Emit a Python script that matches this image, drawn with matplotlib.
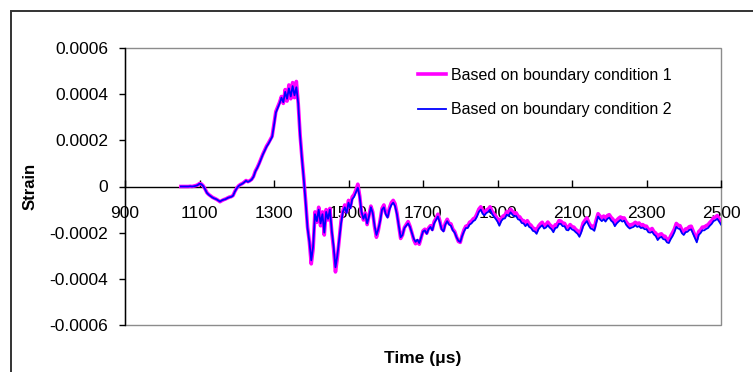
import numpy as np
import matplotlib
matplotlib.use("Agg")
import matplotlib.pyplot as plt
from matplotlib.patches import Rectangle
from matplotlib.lines import Line2D

plt.rcParams['font.family'] = ['Liberation Sans', 'DejaVu Sans']

# Sampling clock of the gauge record: 5 microsecond steps from 1050 to 2500
time_us = np.arange(1050, 2501, 5)

# Strain in microstrain, boundary condition 1 (one row = 50 microseconds)
strain_bc1_ue = [
    0, 0, 0, 0, 0, 1, 0, 2, 4, 7,
    13, 11, 3, -11, -27, -35, -41, -47, -51, -55,
    -60, -66, -61, -57, -54, -50, -46, -44, -39, -21,
    -7, 3, 9, 13, 19, 26, 21, 25, 31, 44,
    67, 82, 100, 120, 140, 158, 175, 188, 203, 218,
    270, 325, 345, 365, 390, 360, 420, 370, 440, 380,
    450, 385, 455, 360, 225, 125, 35, -65, -175, -240,
    -335, -270, -110, -155, -90, -170, -110, -210, -100, -145,
    -95, -195, -270, -370, -310, -230, -150, -105, -80, -110,
    -60, -90, -45, -35, -15, 10, -40, -115, -145, -115,
    -165, -125, -85, -110, -175, -220, -190, -145, -95, -80,
    -115, -130, -92, -70, -60, -75, -115, -170, -225, -210,
    -178, -165, -152, -172, -200, -230, -248, -235, -250, -222,
    -192, -185, -202, -180, -170, -186, -152, -138, -120, -148,
    -182, -190, -158, -142, -160, -162, -185, -195, -218, -238,
    -242, -212, -188, -172, -172, -155, -150, -140, -135, -118,
    -98, -88, -106, -112, -102, -98, -88, -106, -118, -128,
    -140, -158, -138, -128, -124, -108, -114, -98, -108, -116,
    -114, -128, -132, -146, -148, -160, -148, -162, -168, -180,
    -183, -193, -172, -162, -155, -170, -166, -154, -165, -172,
    -186, -166, -165, -148, -150, -158, -160, -175, -178, -165,
    -174, -176, -186, -192, -206, -186, -158, -146, -136, -156,
    -170, -172, -180, -145, -118, -128, -136, -128, -140, -126,
    -122, -134, -142, -160, -146, -138, -132, -138, -136, -152,
    -162, -170, -165, -162, -155, -162, -158, -168, -165, -172,
    -172, -186, -188, -182, -196, -202, -220, -208, -205, -215,
    -216, -230, -232, -214, -200, -184, -160, -168, -170, -188,
    -196, -184, -182, -174, -172, -192, -212, -228, -196, -188,
    -176, -176, -170, -166, -156, -148, -136, -132, -126, -140,
    -150,
]

# Strain in microstrain, boundary condition 2 (one row = 50 microseconds)
strain_bc2_ue = [
    0, 0, 0, 0, 0, 1, 0, 1, 3, 6,
    12, 10, 2, -12, -28, -36, -42, -48, -52, -55,
    -60, -65, -60, -57, -55, -50, -47, -45, -40, -22,
    -8, 2, 8, 12, 18, 25, 20, 24, 30, 42,
    65, 80, 98, 118, 138, 155, 172, 185, 200, 215,
    265, 320, 340, 360, 385, 365, 410, 380, 425, 390,
    435, 395, 430, 360, 220, 120, 30, -70, -180, -240,
    -320, -260, -120, -150, -100, -160, -120, -200, -110, -140,
    -100, -190, -260, -350, -300, -230, -160, -110, -90, -115,
    -70, -95, -55, -45, -25, -5, -45, -110, -140, -120,
    -160, -130, -90, -115, -170, -210, -185, -150, -100, -90,
    -120, -135, -100, -80, -70, -85, -120, -170, -220, -210,
    -180, -170, -160, -175, -200, -225, -240, -230, -245, -220,
    -195, -190, -205, -185, -175, -190, -160, -145, -130, -155,
    -185, -195, -165, -150, -165, -170, -190, -200, -220, -235,
    -240, -215, -195, -180, -180, -165, -160, -150, -145, -130,
    -110, -100, -118, -125, -115, -110, -100, -118, -130, -140,
    -152, -170, -150, -140, -138, -122, -128, -112, -122, -130,
    -128, -142, -145, -158, -160, -172, -162, -175, -180, -192,
    -195, -205, -185, -175, -168, -182, -178, -168, -178, -185,
    -198, -180, -178, -162, -162, -172, -172, -188, -190, -178,
    -186, -190, -198, -205, -218, -198, -172, -160, -150, -168,
    -182, -185, -192, -158, -130, -142, -150, -142, -152, -140,
    -135, -148, -155, -172, -160, -152, -145, -152, -148, -165,
    -175, -182, -178, -175, -168, -175, -172, -180, -178, -185,
    -185, -198, -200, -196, -208, -215, -232, -222, -218, -228,
    -230, -242, -245, -228, -215, -198, -175, -182, -185, -202,
    -210, -198, -196, -188, -186, -205, -225, -242, -210, -202,
    -190, -190, -184, -180, -170, -162, -150, -146, -140, -152,
    -165,
]

series_labels = ["Based on boundary condition 1", "Based on boundary condition 2"]
y_ticks = [-0.0006, -0.0004, -0.0002, 0, 0.0002, 0.0004, 0.0006]
y_tick_labels = ["-0.0006", "-0.0004", "-0.0002", "0", "0.0002", "0.0004", "0.0006"]
x_ticks = [900, 1100, 1300, 1500, 1700, 1900, 2100, 2300, 2500]

t = np.asarray(time_us, dtype=float)
s1 = np.array(strain_bc1_ue, dtype=float) * 1e-6
s2 = np.array(strain_bc2_ue, dtype=float) * 1e-6
assert len(t) == len(s1) == len(s2)

fig = plt.figure(figsize=(7.53, 3.72), dpi=100)
fig.patch.set_facecolor("white")

# Outer chart frame
fig.patches.append(Rectangle((11 / 753, -0.2), 1.2, (372 - 11) / 372 + 0.2,
                             transform=fig.transFigure, fill=False,
                             edgecolor="#333333", linewidth=1.4, zorder=0))

ax = fig.add_axes([125 / 753, 47 / 372, 596 / 753, 277 / 372])
ax.set_xlim(900, 2500)
ax.set_ylim(-0.0006, 0.0006)

# Plot-area border in grey
ax.add_patch(Rectangle((0, 0), 1, 1, transform=ax.transAxes, fill=False,
                       edgecolor="#8c8c8c", linewidth=1.0, zorder=1,
                       clip_on=False))
for side in ("top", "right"):
    ax.spines[side].set_visible(False)
ax.spines["left"].set_color("black")
ax.spines["left"].set_linewidth(1.0)
ax.spines["left"].set_zorder(3)
ax.spines["bottom"].set_position(("data", 0))
ax.spines["bottom"].set_color("black")
ax.spines["bottom"].set_linewidth(1.0)
ax.spines["bottom"].set_zorder(3)

ax.plot(t, s1, color="#ff00ff", linewidth=2.6, zorder=4, label=series_labels[0])
ax.plot(t, s2, color="#0000ff", linewidth=1.3, zorder=5, label=series_labels[1])

ax.set_yticks(y_ticks)
ax.set_yticklabels(y_tick_labels)
ax.set_xticks(x_ticks)
ax.set_xticklabels([str(v) for v in x_ticks])
ax.tick_params(axis="y", direction="out", length=4, width=1, labelsize=12.5,
               pad=8, colors="black")
ax.tick_params(axis="x", direction="in", length=5, width=1, labelsize=12.5,
               pad=14, colors="black")

ax.set_xlabel("Time (μs)", fontsize=12.5, fontweight="bold")
ax.xaxis.set_label_coords(0.5, -0.093)
ax.set_ylabel("Strain", fontsize=12, fontweight="bold")
ax.yaxis.set_label_coords(-0.146, 0.5)

handles = [Line2D([], [], color="#ff00ff", linewidth=2.6),
           Line2D([], [], color="#0000ff", linewidth=1.3)]
ax.legend(handles, series_labels, loc="upper left",
          bbox_to_anchor=(418 / 753, (372 - 68) / 372),
          bbox_transform=fig.transFigure, frameon=False, fontsize=11.5,
          handlelength=1.75, handletextpad=0.3, labelspacing=1.2,
          borderpad=0, borderaxespad=0)

fig.savefig("out.png", dpi=100, facecolor="white")
